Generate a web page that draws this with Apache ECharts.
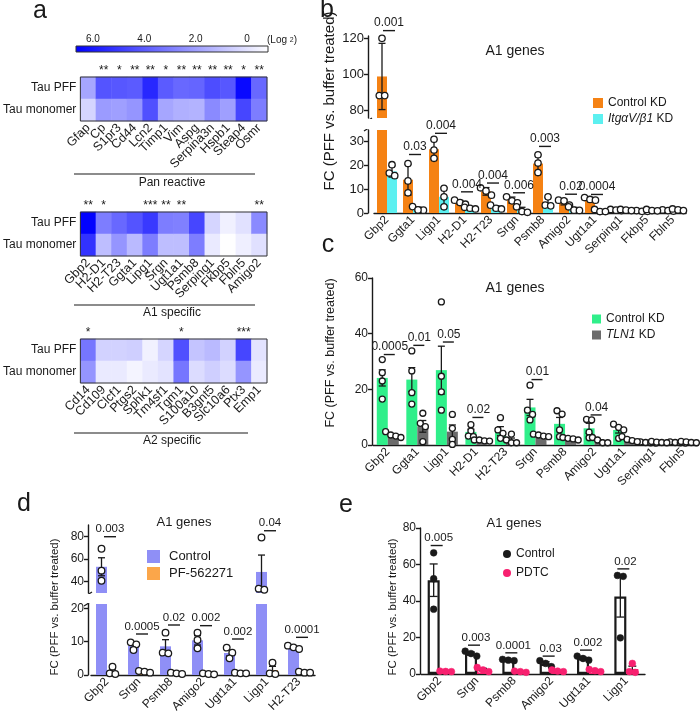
<!DOCTYPE html>
<html>
<head>
<meta charset="utf-8">
<script src="https://cdn.jsdelivr.net/npm/echarts@6/dist/echarts.min.js"></script>
<style>
html, body { margin: 0; padding: 0; background: #fff; }
#chart { width: 700px; height: 720px; }
</style>
</head>
<body>
<div id="chart"></div>
<script>
// ---------- panel a : heatmaps (log2 FC) ----------
const colorRange = [-0.82, 6.66];
const colorTicks = [6, 4, 2, 0];

const panGenes = ['Gfap','Cp','S1pr3','Cd44','Lcn2','Timp1','Vim','Aspg','Serpina3n','Hspb1','Steap4','Osmr'];
const panPFF   = [1.8, 4.2, 4.1, 4.0, 5.5, 4.0, 3.6, 3.7, 4.4, 4.1, 6.4, 3.6];
const panMono  = [0.4, 2.1, 2.0, 2.3, 4.3, 1.8, 1.5, 1.4, 2.6, 2.0, 4.6, 3.0];
const panStars = ['', '**', '*', '**', '**', '*', '**', '**', '**', '**', '*', '**'];

const a1Genes = ['Gbp2','H2-D1','H2-T23','Ggta1','Lipg1','Srgn','Ugt1a1','Psmb8','Serping1','Fkbp5','Fbln5','Amigo2'];
const a1PFF   = [6.6, 3.0, 3.6, 4.2, 5.0, 3.0, 2.9, 4.6, 0.4, -0.37, 0.07, 2.6];
const a1Mono  = [5.2, 1.1, 2.3, 1.2, 3.0, 1.1, 1.1, 3.0, -0.2, -0.8, -0.35, 0.1];
const a1Stars = ['**', '*', '', '', '***', '**', '**', '', '', '', '', '**'];

const a2Genes = ['Cd14','Cd109','Clcf1','Ptgs2','Sphk1','Tm4sf1','Tgm1','S100a10','B3gnt5','Slc10a6','Ptx3','Emp1'];
const a2PFF   = [3.2, 0.5, 0.5, 0.6, -0.4, 0.4, 4.3, 0.9, 1.2, 0.5, 4.6, 0.0];
const a2Mono  = [2.3, -0.2, -0.2, -0.5, -0.2, 0.0, 3.2, 0.2, 0.6, 0.2, 2.3, -0.2];
const a2Stars = ['*', '', '', '', '', '', '*', '', '', '', '***', ''];

// ---------- panel b ----------
const bGenes = ['Gbp2','Ggta1','Ligp1','H2-D1','H2-T23','Srgn','Psmb8','Amigo2','Ugt1a1','Serping1','Fkbp5','Fbln5'];
const bCtrlMean = [98.7, 14.0, 26.8, 4.5, 9.1, 5.4, 20.8, 4.6, 5.9, 1.3, 0.8, 1.0];
const bCtrlErr  = [18.5, 6.5, 4.0, 0.8, 1.6, 1.3, 3.7, 1.2, 0.6, 0.3, 0.2, 0.3];
const bCtrlPts  = [[88,88,120],[20.8,13.5,8.5],[31,26.5,23],[5.4,4.4,3.7],[10.6,9.3,7.5],[6.8,5.1,4.3],
                   [24.5,21,17],[5.4,5.1,3.3],[6.5,5.7,5.4],[1.5,1.2,1.0],[1.0,0.7,0.7],[1.3,1.0,0.8]];
const bKdMean = [17.5, 1.7, 6.8, 2.0, 2.3, 1.2, 4.4, 1.6, 0.9, 1.2, 1.1, 1.3];
const bKdErr  = [2.4, 0.8, 3.9, 0.4, 0.8, 1.2, 2.1, 0.8, 0.5, 0.3, 0.3, 0.35];
const bKdPts  = [[20.3,16.8,15.7],[2.7,1.2,1.3],[10.4,6.8,2.6],[2.4,2.0,1.7],[3.3,2.0,1.7],[2.6,0.6,0.3],
                 [6.8,3.3,3.0],[2.6,1.2,1.1],[1.5,0.6,0.6],[1.5,1.2,1.0],[1.5,1.0,0.9],[1.7,1.3,1.0]];
const bP      = ['0.001','0.03','0.004','0.004','0.004','0.006','0.003','0.02','0.0004','','',''];
const bPLevel = [124.3, 24.6, 33.5, 8.9, 12.6, 8.5, 28, 7.9, 7.8, 0, 0, 0];

// ---------- panel c ----------
const cGenes = ['Gbp2','Ggta1','Ligp1','H2-D1','H2-T23','Srgn','Psmb8','Amigo2','Ugt1a1','Serping1','Fbln5'];
const cCtrlMean = [24.1, 23.5, 26.9, 4.7, 5.0, 13.5, 7.6, 6.0, 5.4, 0.9, 0.9];
const cCtrlErr  = [2.9, 4.3, 8.6, 1.0, 1.6, 2.9, 2.3, 1.8, 1.1, 0.1, 0.1];
const cCtrlPts  = [[30.7,26,23,16.5],[33.8,26.6,18.8,14.7],[51.4,24.7,19.1,12.5],[7.3,5,3.2,3],[9.8,5.4,4.2,2.4],
                   [21.5,12.5,11,9],[12.3,11.1,5.4,3],[9.2,9,4.6,2.6],[7.5,6.3,5.4,2.4],[1.1,0.9,0.8,0.7],[1.1,0.9,0.8,0.7]];
const cKdMean = [3.6, 6.7, 4.8, 1.5, 1.8, 3.4, 2.3, 1.4, 2.0, 1.0, 1.0];
const cKdErr  = [0.45, 2.1, 2.4, 0.2, 0.7, 0.2, 0.2, 0.5, 0.4, 0.1, 0.1];
const cKdPts  = [[4.8,3.6,3.2,2.7],[11.4,7.8,6.6,1.2],[11,6,2,0.2],[1.8,1.8,1.5,1.4],[3.9,1.8,0.8,0.8],
                 [3.9,3.6,3.2,3.0],[2.7,2.4,2.2,1.8],[2.7,1.8,0.8,0.8],[3,2,1.6,1.2],[1.3,1.0,0.9,0.8],[1.3,1.1,0.9,0.8]];
const cP      = ['0.0005','0.01','0.05','0.02','','0.01','','0.04','','',''];
const cPLevel = [32.5, 35.8, 37, 9.9, 0, 23.5, 0, 10.8, 0, 0, 0];

// ---------- panel d ----------
const dGenes = ['Gbp2','Srgn','Psmb8','Amigo2','Ugt1a1','Ligp1','H2-T23'];
const dCtrlMean = [53, 8.8, 8.6, 10.4, 6.6, 48.4, 8.3];
const dCtrlErr  = [8, 0.7, 2, 1.4, 0.9, 15, 0.3];
const dCtrlPts  = [[69,49.5,40.6],[9.8,9.2,7.5],[12.7,6.7,6.5],[12.7,10.5,8],[8.2,6.7,5],[79,33.5,32.6],[8.8,8.3,7.8]];
const dPfMean = [1.1, 1.0, 0.5, 0.35, 0.6, 1.5, 0.8];
const dPfErr  = [0.7, 0.15, 0.1, 0.1, 0.07, 1.1, 0.1];
const dPfPts  = [[2.5,0.5,0.3],[1.2,1.0,0.7],[0.7,0.5,0.3],[0.5,0.3,0.2],[0.7,0.5,0.5],[3.7,0.5,0.3],[1.0,0.7,0.7]];
const dP      = ['0.003','0.0005','0.02','0.002','0.002','0.04','0.0001'];
const dPLevel = [79.7, 12.3, 15, 14.8, 10.8, 85, 11.3];

// ---------- panel e ----------
const eGenes = ['Gbp2','Srgn','Psmb8','Amigo2','Ugt1a1','Ligp1'];
const eCtrlMean = [51.4, 11.2, 7.6, 5.7, 8.6, 42.4];
const eCtrlErr  = [8.9, 0.8, 0.2, 1.0, 0.6, 11.2];
const eCtrlPts  = [[66.4,52.2,35.5],[12.5,11.2,9.8],[8,7.6,7.3],[7.3,5.8,4],[9.8,8.5,7.6],[54,53.5,19.8]];
const ePdMean = [1.4, 2.4, 1.3, 1.7, 1.9, 2.7];
const ePdErr  = [0.1, 0.7, 0.2, 0.3, 0.35, 1.6];
const ePdPts  = [[1.6,1.4,1.3],[3.6,2.2,1.3],[1.6,1.3,0.9],[2.2,1.6,1.3],[2.5,1.8,1.3],[5.8,1.3,0.9]];
const eP      = ['0.005','0.003','0.0001','0.03','0.002','0.02'];
const ePLevel = [70.4, 15.8, 11.6, 9.8, 13.1, 57.6];

const FONT = 'Liberation Sans, Arial, sans-serif';
const INK = '#1a1a1a';

const chart = echarts.init(document.getElementById('chart'));
const grids = [], xAxes = [], yAxes = [], series = [], graphics = [];
const heatSeries = [];

// heatmap block: two rows (Tau PFF / Tau monomer), stars on top
function heatBlock(top, genes, pff, mono, stars) {
  const gi = grids.length;
  grids.push({ left: 76, top: top, width: 191, height: 44, show: true, z: 5,
    borderColor: '#333', borderWidth: 1, backgroundColor: 'transparent' });
  const xi = xAxes.length;
  xAxes.push({ type: 'category', gridIndex: gi, data: genes, position: 'bottom',
    axisLine: { show: false }, axisTick: { show: false },
    axisLabel: { rotate: 45, interval: 0, fontSize: 12.5, color: INK, margin: 5 } });
  xAxes.push({ type: 'category', gridIndex: gi, data: stars, position: 'top',
    axisLine: { show: false }, axisTick: { show: false },
    axisLabel: { interval: 0, fontSize: 12, color: INK, margin: 0 } });
  const yi = yAxes.length;
  yAxes.push({ type: 'category', gridIndex: gi, data: ['Tau monomer', 'Tau PFF'],
    axisLine: { show: false }, axisTick: { show: false },
    axisLabel: { fontSize: 12, color: INK, margin: 4 } });
  const data = [];
  genes.forEach((g, i) => { data.push([i, 1, pff[i]]); data.push([i, 0, mono[i]]); });
  heatSeries.push(series.length);
  series.push({ type: 'heatmap', xAxisIndex: xi, yAxisIndex: yi, data: data, silent: true });
}

heatBlock(77, panGenes, panPFF, panMono, panStars);
heatBlock(212, a1Genes, a1PFF, a1Mono, a1Stars);
heatBlock(339, a2Genes, a2PFF, a2Mono, a2Stars);

// colour bar
(function () {
  const gi = grids.length;
  grids.push({ left: 76, top: 46, width: 192, height: 6 });
  const xi = xAxes.length, yi = yAxes.length;
  xAxes.push({ type: 'value', gridIndex: gi, min: colorRange[0], max: colorRange[1], inverse: true,
    position: 'top', axisLine: { show: false }, splitLine: { show: false },
    axisTick: { show: true, length: 3, customValues: colorTicks, lineStyle: { color: '#333' } },
    axisLabel: { customValues: colorTicks, fontSize: 10, margin: 2, color: INK,
      formatter: v => (v === 0 ? '0' : v.toFixed(1)) } });
  yAxes.push({ type: 'value', gridIndex: gi, min: 0, max: 1, show: false });
  series.push({ type: 'custom', xAxisIndex: xi, yAxisIndex: yi, silent: true,
    data: [[colorRange[0], colorRange[1]]], encode: { x: [0, 1] },
    renderItem: (params, api) => {
      const a = api.coord([api.value(1), 1]);
      const b = api.coord([api.value(0), 0]);
      return { type: 'rect',
        shape: { x: Math.min(a[0], b[0]), y: Math.min(a[1], b[1]), width: Math.abs(b[0] - a[0]), height: Math.abs(b[1] - a[1]) },
        style: { fill: new echarts.graphic.LinearGradient(0, 0, 1, 0,
          [{ offset: 0, color: '#0000ff' }, { offset: 1, color: '#ffffff' }]), stroke: '#333', lineWidth: 1 } };
    } });
})();

// bar panel with error bars, points and p values; segs = broken-axis pieces from top to bottom
function barPanel(p) {
  const nSeg = p.segs.length;
  const segOf = v => { for (let i = 0; i < nSeg; i++) if (v >= p.segs[i].min) return i; return nSeg - 1; };
  const pixY = v => { const s = p.segs[segOf(v)]; return s.top + (s.max - v) * s.height / (s.max - s.min); };

  // horizontal spread of points that would overlap (simple beeswarm)
  const swarm = arr => {
    const order = arr.map((v, j) => j).sort((a, b) => pixY(arr[a]) - pixY(arr[b]));
    const off = new Array(arr.length).fill(0);
    const step = p.dotR * 1.7;
    let cluster = [];
    const flush = () => {
      cluster.forEach((j, i) => { off[j] = (i - (cluster.length - 1) / 2) * step; });
      cluster = [];
    };
    order.forEach(j => {
      if (cluster.length && pixY(arr[j]) - pixY(arr[cluster[cluster.length - 1]]) > p.dotR * 1.6) flush();
      cluster.push(j);
    });
    flush();
    return off;
  };

  p.segs.forEach((s, si) => {
    const gi = grids.length;
    grids.push({ left: p.left, top: s.top, width: p.width, height: s.height });
    const xi = xAxes.length, yi = yAxes.length;
    const last = si === nSeg - 1;
    xAxes.push({ type: 'category', gridIndex: gi, data: p.cats, show: last,
      axisLine: { lineStyle: { color: INK, width: 1.4 } }, axisTick: { show: false },
      axisLabel: { rotate: 45, interval: 0, fontSize: p.catFont, color: INK, margin: 5 } });
    yAxes.push({ type: 'value', gridIndex: gi, min: s.min, max: s.max, offset: p.yOff,
      splitLine: { show: false },
      axisLine: { show: true, lineStyle: { color: INK, width: 1.4 } },
      axisTick: { show: true, length: 4, customValues: s.ticks, lineStyle: { color: INK, width: 1.4 } },
      axisLabel: { customValues: s.ticks, fontSize: p.tickFont, color: INK, margin: 4 } });

    p.groups.forEach(g => {
      series.push({ type: 'bar', name: g.name, xAxisIndex: xi, yAxisIndex: yi, data: g.mean,
        barWidth: p.barW, barGap: '0%', itemStyle: g.barStyle, silent: true, z: 2 });
    });

    const errData = [], dotData = [], pData = [];
    p.groups.forEach((g, k) => {
      g.mean.forEach((m, c) => { if (segOf(m) === si) errData.push([c, k, m, g.err[c]]); });
      g.pts.forEach((arr, c) => {
        const off = swarm(arr);
        arr.forEach((v, j) => { if (segOf(v) === si) dotData.push([c, k, v, off[j]]); });
      });
    });
    p.pv.forEach((t, c) => { if (t && segOf(p.pl[c]) === si) pData.push([c, p.pl[c], c]); });

    series.push({ type: 'custom', xAxisIndex: xi, yAxisIndex: yi, clip: false, silent: true, z: 3,
      encode: { x: 0, y: 2 }, data: errData,
      renderItem: (params, api) => {
        const c = api.value(0), k = api.value(1), m = api.value(2), e = api.value(3);
        const x = api.coord([c, 0])[0] + (k - 0.5) * p.barW;
        const y1 = api.coord([c, m + e])[1], y0 = api.coord([c, m - e])[1];
        const st = { stroke: INK, lineWidth: 1.3 };
        const cap = p.cap;
        return { type: 'group', children: [
          { type: 'line', shape: { x1: x, y1: y1, x2: x, y2: y0 }, style: st },
          { type: 'line', shape: { x1: x - cap, y1: y1, x2: x + cap, y2: y1 }, style: st },
          { type: 'line', shape: { x1: x - cap, y1: y0, x2: x + cap, y2: y0 }, style: st }] };
      } });

    series.push({ type: 'custom', xAxisIndex: xi, yAxisIndex: yi, clip: false, silent: true, z: 4,
      encode: { x: 0, y: 2 }, data: dotData,
      renderItem: (params, api) => {
        const c = api.value(0), k = api.value(1);
        const x = api.coord([c, 0])[0] + (k - 0.5) * p.barW + api.value(3);
        const y = api.coord([c, api.value(2)])[1];
        const g = p.groups[k];
        return { type: 'circle', shape: { cx: x, cy: y, r: p.dotR },
          style: { fill: g.dotFill, stroke: g.dotStroke, lineWidth: g.dotLine } };
      } });

    series.push({ type: 'custom', xAxisIndex: xi, yAxisIndex: yi, clip: false, silent: true, z: 4,
      encode: { x: 0, y: 1 }, data: pData,
      renderItem: (params, api) => {
        const c = api.value(0);
        const cx = api.coord([c, 0])[0];
        const y = api.coord([c, api.value(1)])[1];
        return { type: 'group', children: [
          { type: 'line', shape: { x1: cx + p.pLine[0], y1: y, x2: cx + p.pLine[1], y2: y },
            style: { stroke: INK, lineWidth: 1.4 } },
          { type: 'text', x: cx + p.pText, y: y - 1.5,
            style: { text: p.pv[api.value(2)], fontSize: p.pFont, fontFamily: FONT, fill: INK,
              align: 'center', verticalAlign: 'bottom', textAlign: 'center', textVerticalAlign: 'bottom' } }] };
      } });
  });
}

const openDot = { dotFill: '#fff', dotStroke: INK, dotLine: 1.3 };

barPanel({
  left: 374, width: 312, yOff: 6, barW: 10, cap: 3.5, dotR: 3.2,
  catFont: 12, tickFont: 13, pFont: 12, pLine: [-4, 8], pText: 2,
  cats: bGenes, pv: bP, pl: bPLevel,
  segs: [{ top: 36, height: 82, min: 75.5, max: 121.3, ticks: [80, 100, 120] },
         { top: 130, height: 83, min: 0, max: 34.9, ticks: [0, 10, 20, 30] }],
  groups: [
    Object.assign({ name: 'Control KD|b', mean: bCtrlMean, err: bCtrlErr, pts: bCtrlPts, barStyle: { color: '#f58214' } }, openDot),
    Object.assign({ name: 'Itg|b', mean: bKdMean, err: bKdErr, pts: bKdPts, barStyle: { color: '#5cf0f0' } }, openDot)]
});

barPanel({
  left: 373, width: 325, yOff: 1, barW: 11, cap: 3.5, dotR: 3,
  catFont: 12, tickFont: 12, pFont: 12, pLine: [-4, 7], pText: 2,
  cats: cGenes, pv: cP, pl: cPLevel,
  segs: [{ top: 278, height: 167, min: 0, max: 60, ticks: [0, 20, 40, 60] }],
  groups: [
    Object.assign({ name: 'Control KD|c', mean: cCtrlMean, err: cCtrlErr, pts: cCtrlPts, barStyle: { color: '#30ef8a' } }, openDot),
    Object.assign({ name: 'TLN1|c', mean: cKdMean, err: cKdErr, pts: cKdPts, barStyle: { color: '#6b6b6b' } }, openDot)]
});

barPanel({
  left: 91, width: 224, yOff: 3, barW: 11, cap: 3.5, dotR: 3.3,
  catFont: 12, tickFont: 12, pFont: 11.5, pLine: [-3, 9], pText: 3,
  cats: dGenes, pv: dP, pl: dPLevel,
  segs: [{ top: 525, height: 68, min: 29.7, max: 90.1, ticks: [40, 60, 80] },
         { top: 604, height: 71, min: 0, max: 21.3, ticks: [0, 10, 20] }],
  groups: [
    Object.assign({ name: 'Control|d', mean: dCtrlMean, err: dCtrlErr, pts: dCtrlPts, barStyle: { color: '#8f8ff6' } }, openDot),
    Object.assign({ name: 'PF-562271|d', mean: dPfMean, err: dPfErr, pts: dPfPts, barStyle: { color: '#fba64a' } }, openDot)]
});

barPanel({
  left: 421, width: 224, yOff: 1, barW: 12, cap: 4, dotR: 3.4,
  catFont: 12, tickFont: 12, pFont: 11.5, pLine: [-9, 3], pText: -1,
  cats: eGenes, pv: eP, pl: ePLevel,
  segs: [{ top: 528, height: 146, min: 0, max: 80, ticks: [0, 20, 40, 60, 80] }],
  groups: [
    { name: 'Control|e', mean: eCtrlMean, err: eCtrlErr, pts: eCtrlPts,
      barStyle: { color: '#fff', borderColor: INK, borderWidth: 2.2 }, dotFill: INK, dotStroke: INK, dotLine: 0.5 },
    { name: 'PDTC|e', mean: ePdMean, err: ePdErr, pts: ePdPts,
      barStyle: { color: '#fff', borderColor: '#f7206f', borderWidth: 1.5 }, dotFill: '#f7206f', dotStroke: '#f7206f', dotLine: 0.5 }]
});

// ---------- free text ----------
function txt(x, y, text, size, extra) {
  return Object.assign({ type: 'text', x: x, y: y, silent: true,
    style: Object.assign({ text: text, fontSize: size, fontFamily: FONT, fill: INK,
      align: 'center', verticalAlign: 'middle', textAlign: 'center', textVerticalAlign: 'middle' }, (extra || {}).style || {}) },
    (extra || {}).el || {});
}
function seg(x1, y1, x2, y2, w) {
  return { type: 'line', silent: true, shape: { x1: x1, y1: y1, x2: x2, y2: y2 }, style: { stroke: INK, lineWidth: w || 1.2 } };
}

graphics.push(
  txt(40, 11, 'a', 25), txt(327, 10, 'b', 25), txt(328, 245, 'c', 25), txt(24, 504, 'd', 25), txt(346, 505, 'e', 25),
  txt(267, 40, '(Log {s|2})', 10, { style: { align: 'left', textAlign: 'left', rich: { s: { fontSize: 7, fontFamily: FONT, fill: INK } } } }),
  seg(74, 174, 255, 174), txt(172, 182.5, 'Pan reactive', 12),
  seg(74, 305, 255, 305), txt(172, 312.5, 'A1 specific', 12),
  seg(74, 433, 248, 433), txt(172, 441, 'A2 specific', 12),
  txt(515, 51, 'A1 genes', 14), txt(515, 288, 'A1 genes', 14), txt(184, 522, 'A1 genes', 13), txt(514, 523, 'A1 genes', 13),
  txt(330, 101, 'FC (PFF vs. buffer treated)', 15, { el: { rotation: Math.PI / 2 } }),
  txt(331, 353, 'FC (PFF vs. buffer treated)', 12.5, { el: { rotation: Math.PI / 2 } }),
  txt(55, 607, 'FC (PFF vs. buffer treated)', 11.5, { el: { rotation: Math.PI / 2 } }),
  txt(393, 607, 'FC (PFF vs. buffer treated)', 11.5, { el: { rotation: Math.PI / 2 } }),
  // axis break marks
  { type: 'rect', silent: true, shape: { x: 362, y: 119, width: 12, height: 10 }, style: { fill: '#fff' }, z: 50 },
  seg(364, 123, 372, 118, 1.3), seg(364, 131, 372, 126, 1.3),
  { type: 'rect', silent: true, shape: { x: 82, y: 594, width: 12, height: 9 }, style: { fill: '#fff' }, z: 50 },
  seg(84, 597, 92, 592, 1.3), seg(84, 606, 92, 601, 1.3)
);

const richLegend = { i: { fontStyle: 'italic', fontSize: 12, fontFamily: FONT, color: INK } };

chart.setOption({
  animation: false,
  textStyle: { fontFamily: FONT },
  grid: grids, xAxis: xAxes, yAxis: yAxes, series: series,
  visualMap: { type: 'continuous', show: false, min: colorRange[0], max: colorRange[1], dimension: 2,
    seriesIndex: heatSeries, inRange: { color: ['#ffffff', '#0000ff'] } },
  legend: [
    { left: 588, top: 92, orient: 'vertical', icon: 'rect', itemWidth: 10, itemHeight: 10, itemGap: 4, selectedMode: false,
      data: ['Control KD|b', 'Itg|b'], textStyle: { fontSize: 12, color: INK, rich: richLegend },
      formatter: n => (n === 'Itg|b' ? '{i|ItgαV/β1} KD' : 'Control KD') },
    { left: 587, top: 308, orient: 'vertical', icon: 'rect', itemWidth: 9, itemHeight: 9, itemGap: 4, selectedMode: false,
      data: ['Control KD|c', 'TLN1|c'], textStyle: { fontSize: 12, color: INK, rich: richLegend },
      formatter: n => (n === 'TLN1|c' ? '{i|TLN1} KD' : 'Control KD') },
    { left: 142, top: 545, orient: 'vertical', icon: 'rect', itemWidth: 13, itemHeight: 13, itemGap: 4, selectedMode: false,
      data: ['Control|d', 'PF-562271|d'], textStyle: { fontSize: 13, color: INK, padding: [0, 0, 0, 4] },
      formatter: n => n.split('|')[0] },
    { left: 498, top: 543, orient: 'vertical', itemWidth: 8, itemHeight: 8, itemGap: 7, selectedMode: false,
      data: [{ name: 'Control|e', icon: 'circle', itemStyle: { color: INK, borderWidth: 0 } },
             { name: 'PDTC|e', icon: 'circle', itemStyle: { color: '#f7206f', borderWidth: 0 } }],
      textStyle: { fontSize: 12, color: INK }, formatter: n => n.split('|')[0] }
  ],
  graphic: { elements: graphics }
});
</script>
</body>
</html>
